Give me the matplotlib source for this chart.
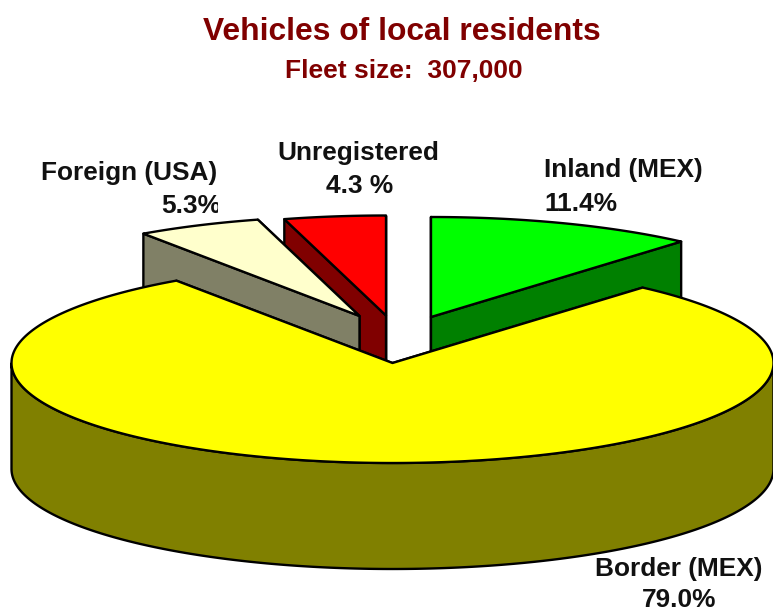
import numpy as np
import matplotlib
matplotlib.use("Agg")
import matplotlib.pyplot as plt
from matplotlib.patches import Polygon, Rectangle

categories = ["Inland (MEX)", "Border (MEX)", "Foreign (USA)", "Unregistered"]
shares = [11.4, 79.0, 5.3, 4.3]
value_labels = ["11.4%", "79.0%", "5.3%", "4.3 %"]
top_colors = ["#00FF00", "#FFFF00", "#FFFFCC", "#FF0000"]
side_colors = ["#008000", "#808000", "#808066", "#800000"]
title = "Vehicles of local residents"
subtitle = "Fleet size:  307,000"

# layout (pixels)
W, H = 773, 612
RX, RY, DEPTH = 381, 100, 106
apexes = [(431, 317), (392.5, 363), (359.5, 316), (386, 315.5)]
draw_order = [3, 2, 0, 1]
LW = 1.7

plt.rcParams["font.family"] = ["Liberation Sans", "DejaVu Sans"]
fig = plt.figure(figsize=(W / 100, H / 100), dpi=100, facecolor="white")
ax = fig.add_axes([0, 0, 1, 1])
ax.set_xlim(0, W)
ax.set_ylim(H, 0)
ax.axis("off")

# clockwise from 12 o'clock
edges = 90 - np.cumsum([0] + shares) * 3.6


def rim(apex, deg, d=0):
    t = np.radians(deg)
    return apex[0] + RX * np.cos(t), apex[1] - RY * np.sin(t) + d


def add(pts, fc, z):
    ax.add_patch(Polygon(pts, closed=True, fc=fc, ec="black", lw=LW,
                         joinstyle="round", zorder=z, clip_on=False))


for z, i in enumerate(draw_order):
    hi, lo = edges[i], edges[i + 1]  # hi > lo, sweep clockwise
    a = apexes[i]
    base = z * 10
    # radial walls, farther one first
    walls = sorted([hi, lo], key=lambda d: rim(a, d)[1])
    for k, d in enumerate(walls):
        p = rim(a, d)
        q = rim(a, d, DEPTH)
        add([a, p, q, (a[0], a[1] + DEPTH)], side_colors[i], base + k)
    # outer front wall: part of the arc facing the viewer
    th = np.linspace(hi, lo, 400)
    front = th[np.sin(np.radians(th)) <= 0]
    if front.size:
        upper = [rim(a, d) for d in front]
        lower = [rim(a, d, DEPTH) for d in front[::-1]]
        add(upper + lower, side_colors[i], base + 3)
    # top face
    add([a] + [rim(a, d) for d in th], top_colors[i], base + 4)

ax.text(401.5, 32, title, color="#800000", fontsize=22.9, fontweight="bold",
        ha="center", va="center", zorder=100)
ax.text(403.5, 71, subtitle, color="#800000", fontsize=19, fontweight="bold",
        ha="center", va="center", zorder=100)

FS = 18.9
INK = "#111111"
common = dict(fontsize=FS, fontweight="bold", va="center", zorder=100, color=INK)
ax.text(544, 170, categories[0], ha="left", **common)
ax.text(544, 204, value_labels[0], ha="left", **common)
ax.text(595, 569, categories[1], ha="left", **common)
ax.text(679, 600, value_labels[1], ha="center", **common)
ax.text(41, 173, categories[2], ha="left", **common)
t = ax.text(161, 206, value_labels[2], ha="left", **common)
t.set_clip_path(Rectangle((0, 0), 218, H, transform=ax.transData))
t.set_clip_on(True)
ax.text(358, 153, categories[3], ha="center", **common)
ax.text(360, 186, value_labels[3], ha="center", **common)

fig.savefig("out.png", dpi=100, facecolor="white")
